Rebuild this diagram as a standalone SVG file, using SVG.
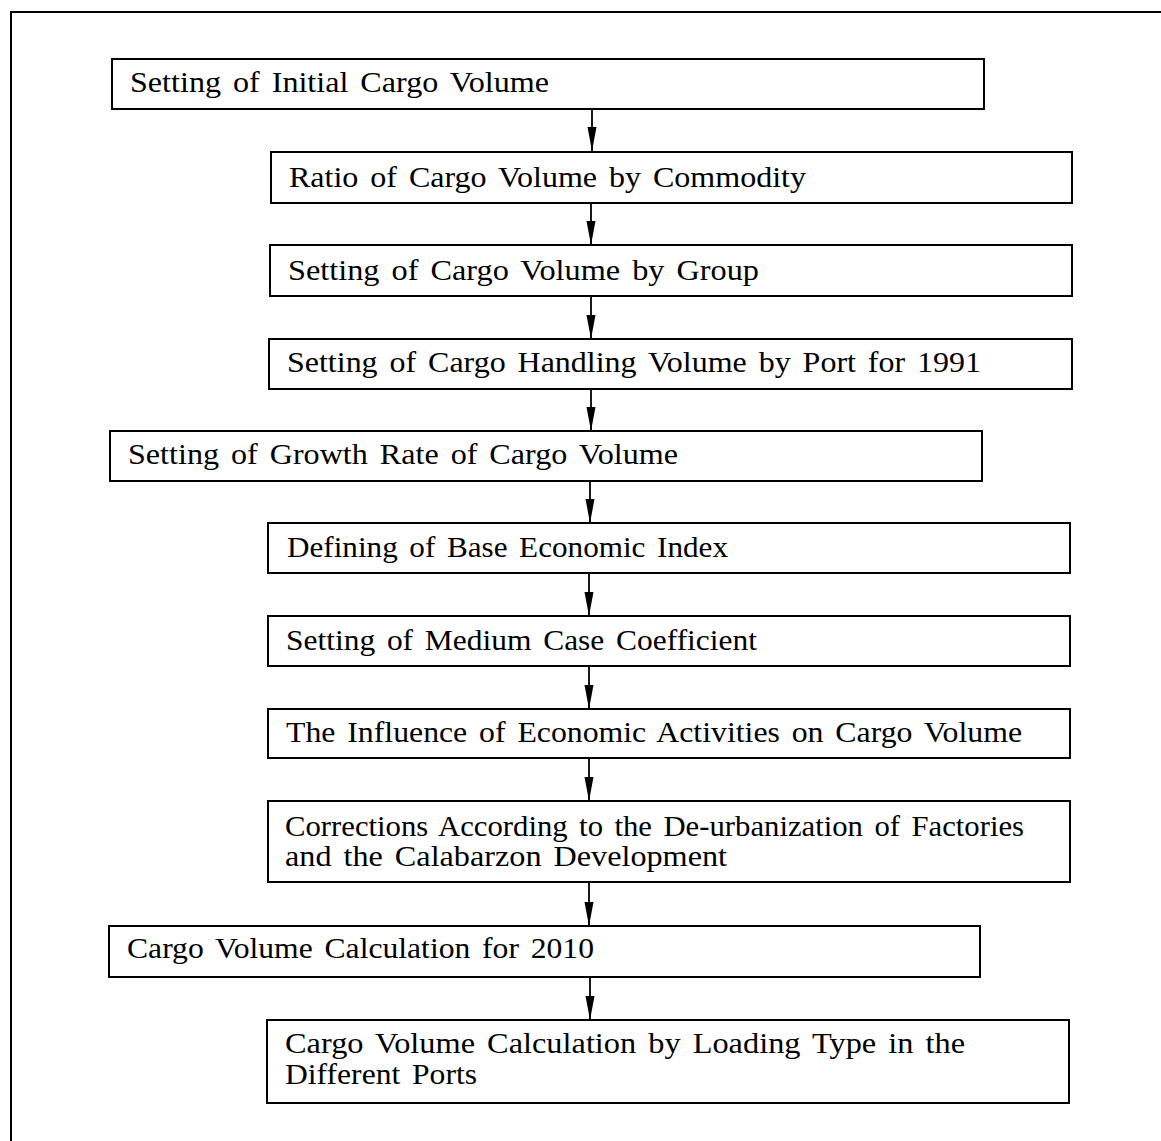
<svg xmlns="http://www.w3.org/2000/svg" width="1161" height="1141" viewBox="0 0 1161 1141">
<style>
.box{fill:#fff;stroke:#000;stroke-width:2}
.t{font-family:"Liberation Serif","Times New Roman",serif;font-size:28.5px;word-spacing:3.5px;fill:#000}
.c{stroke:#000;stroke-width:1.8;fill:none}
</style>
<defs>
<marker id="ah" markerUnits="userSpaceOnUse" markerWidth="24" markerHeight="12" viewBox="0 0 24 12" refX="24" refY="6" orient="auto">
<path d="M0,1.5 L0,10.5 L24,6 Z" fill="#000"/>
</marker>
</defs>
<rect width="1161" height="1141" fill="#fff"/>
<path d="M11,1141 V12 H1161" fill="none" stroke="#000" stroke-width="2"/>
<g id="connectors">
<line class="c" x1="592" y1="109" x2="592" y2="151" marker-end="url(#ah)"/>
<line class="c" x1="591" y1="203" x2="591" y2="245" marker-end="url(#ah)"/>
<line class="c" x1="591" y1="296" x2="591" y2="339" marker-end="url(#ah)"/>
<line class="c" x1="591" y1="389" x2="591" y2="431" marker-end="url(#ah)"/>
<line class="c" x1="590" y1="481" x2="590" y2="523" marker-end="url(#ah)"/>
<line class="c" x1="589" y1="573" x2="589" y2="616" marker-end="url(#ah)"/>
<line class="c" x1="589" y1="666" x2="589" y2="709" marker-end="url(#ah)"/>
<line class="c" x1="589" y1="758" x2="589" y2="801" marker-end="url(#ah)"/>
<line class="c" x1="589" y1="882" x2="589" y2="926" marker-end="url(#ah)"/>
<line class="c" x1="590" y1="977" x2="590" y2="1020" marker-end="url(#ah)"/>
</g>
<g id="n1"><rect class="box" x="112" y="59" width="872" height="50"/><text class="t" x="130" y="92" textLength="419" lengthAdjust="spacingAndGlyphs">Setting of Initial Cargo Volume</text></g>
<g id="n2"><rect class="box" x="271" y="152" width="801" height="51"/><text class="t" x="289" y="187" textLength="517" lengthAdjust="spacingAndGlyphs">Ratio of Cargo Volume by Commodity</text></g>
<g id="n3"><rect class="box" x="270" y="245" width="802" height="51"/><text class="t" x="288" y="280" textLength="471" lengthAdjust="spacingAndGlyphs">Setting of Cargo Volume by Group</text></g>
<g id="n4"><rect class="box" x="269" y="339" width="803" height="50"/><text class="t" x="287" y="372" textLength="694" lengthAdjust="spacingAndGlyphs">Setting of Cargo Handling Volume by Port for 1991</text></g>
<g id="n5"><rect class="box" x="110" y="431" width="872" height="50"/><text class="t" x="128" y="464" textLength="550" lengthAdjust="spacingAndGlyphs">Setting of Growth Rate of Cargo Volume</text></g>
<g id="n6"><rect class="box" x="268" y="523" width="802" height="50"/><text class="t" x="287" y="557" textLength="441" lengthAdjust="spacingAndGlyphs">Defining of Base Economic Index</text></g>
<g id="n7"><rect class="box" x="268" y="616" width="802" height="50"/><text class="t" x="286" y="650" textLength="471" lengthAdjust="spacingAndGlyphs">Setting of Medium Case Coefficient</text></g>
<g id="n8"><rect class="box" x="268" y="709" width="802" height="49"/><text class="t" x="286" y="742" textLength="736" lengthAdjust="spacingAndGlyphs">The Influence of Economic Activities on Cargo Volume</text></g>
<g id="n9"><rect class="box" x="268" y="801" width="802" height="81"/><text class="t" x="285" y="836" textLength="739" lengthAdjust="spacingAndGlyphs">Corrections According to the De-urbanization of Factories</text><text class="t" x="285" y="866" textLength="442" lengthAdjust="spacingAndGlyphs">and the Calabarzon Development</text></g>
<g id="n10"><rect class="box" x="109" y="926" width="871" height="51"/><text class="t" x="127" y="958" textLength="467" lengthAdjust="spacingAndGlyphs">Cargo Volume Calculation for 2010</text></g>
<g id="n11"><rect class="box" x="267" y="1020" width="802" height="83"/><text class="t" x="285" y="1053" textLength="680" lengthAdjust="spacingAndGlyphs">Cargo Volume Calculation by Loading Type in the</text><text class="t" x="285" y="1084" textLength="192" lengthAdjust="spacingAndGlyphs">Different Ports</text></g>
</svg>
